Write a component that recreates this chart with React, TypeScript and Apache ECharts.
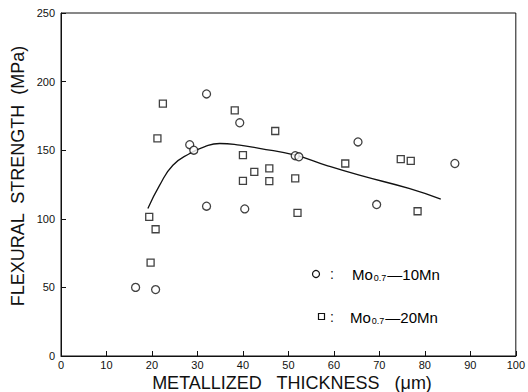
import React, { useEffect, useRef } from "react";
import * as echarts from "echarts";

const xTicks = [0, 10, 20, 30, 40, 50, 60, 70, 80, 90, 100];
const yTicks = [0, 50, 100, 150, 200, 250];

// Mo0.7-10Mn (circles)
const mn10X = [16.4, 20.8, 28.3, 29.2, 32.0, 32.0, 39.3, 40.4, 51.5, 52.3, 65.3, 69.4, 86.6];
const mn10Y = [50, 48.4, 154, 150, 191, 109.2, 170, 107.2, 146, 145.2, 156, 110.4, 140.3];

// Mo0.7-20Mn (squares)
const mn20X = [19.4, 19.7, 20.8, 21.2, 22.4, 38.2, 40.0, 40.0, 42.5, 45.8, 45.8, 47.1, 51.5, 52.0, 62.5, 74.7, 76.9, 78.4];
const mn20Y = [101.4, 68, 92.4, 158.6, 184, 179, 146.4, 127.6, 134.2, 136.7, 127.4, 164, 129.4, 104.3, 140.3, 143.5, 142.2, 105.5];

// fitted curve
const curveX = [19.1, 21.7, 24.6, 28.3, 31.5, 34.9, 39.3, 43.6, 51.5, 58.3, 65.6, 76.5, 83.5];
const curveY = [107.5, 124.5, 139, 147.6, 152.5, 154.9, 153.7, 151.3, 146.4, 139, 131.8, 122.1, 114.3];

const FONT = "'Liberation Sans', Arial, sans-serif";

export default function App() {
  const ref = useRef<HTMLDivElement>(null);
  useEffect(() => {
    if (!ref.current) return;
    const chart = echarts.init(ref.current, null, { renderer: "svg" });
    const zip = (xs: number[], ys: number[]) => xs.map((x, i) => [x, ys[i]]);
    const legendRich = {
      a: { fontSize: 15, fontFamily: FONT, color: "#111" },
      b: { fontSize: 9, fontFamily: FONT, color: "#111", padding: [7, 1, 0, 1] },
    };
    chart.setOption({
      animation: false,
      backgroundColor: "#fff",
      grid: {
        left: 61,
        right: 11,
        top: 13,
        bottom: 36,
        show: true,
        borderColor: "#111",
        borderWidth: 1,
        backgroundColor: "transparent",
      },
      xAxis: {
        type: "value",
        min: xTicks[0],
        max: xTicks[xTicks.length - 1],
        interval: 10,
        axisLine: { lineStyle: { color: "#111", width: 1 } },
        axisTick: { inside: true, length: 5, lineStyle: { color: "#111" } },
        axisLabel: {
          color: "#111",
          fontSize: 11,
          fontFamily: FONT,
          margin: 3,
          showMinLabel: true,
          showMaxLabel: true,
        },
        splitLine: { show: false },
      },
      yAxis: {
        type: "value",
        min: yTicks[0],
        max: yTicks[yTicks.length - 1],
        interval: 50,
        axisLine: { lineStyle: { color: "#111", width: 1 } },
        axisTick: { inside: true, length: 5, lineStyle: { color: "#111" } },
        axisLabel: {
          color: "#111",
          fontSize: 11,
          fontFamily: FONT,
          margin: 6,
          showMinLabel: true,
          showMaxLabel: true,
        },
        splitLine: { show: false },
      },
      series: [
        {
          type: "line",
          data: zip(curveX, curveY),
          smooth: 0.5,
          showSymbol: false,
          lineStyle: { color: "#111", width: 1.3 },
          z: 1,
        },
        {
          type: "scatter",
          data: zip(mn10X, mn10Y),
          symbol: "circle",
          symbolSize: 8,
          itemStyle: { color: "#fff", borderColor: "#111", borderWidth: 1.3 },
          z: 2,
        },
        {
          type: "scatter",
          data: zip(mn20X, mn20Y),
          symbol: "rect",
          symbolSize: 7,
          itemStyle: { color: "#fff", borderColor: "#111", borderWidth: 1.3 },
          z: 2,
        },
      ],
      graphic: [
        {
          type: "text",
          x: 18,
          y: 176,
          rotation: Math.PI / 2,
          style: {
            text: "FLEXURAL  STRENGTH  (MPa)",
            font: `18px ${FONT}`,
            fill: "#111",
            align: "center",
            verticalAlign: "middle",
          },
        },
        {
          type: "text",
          x: 292,
          y: 383,
          style: {
            text: "METALLIZED   THICKNESS   (\u03bcm)",
            font: `18px ${FONT}`,
            fill: "#111",
            align: "center",
            verticalAlign: "middle",
          },
        },
        {
          type: "circle",
          shape: { cx: 316, cy: 274, r: 3.5 },
          style: { fill: "#fff", stroke: "#111", lineWidth: 1.2 },
        },
        {
          type: "rect",
          shape: { x: 318.5, y: 313.5, width: 6, height: 6 },
          style: { fill: "#fff", stroke: "#111", lineWidth: 1.2 },
        },
        {
          type: "text",
          x: 330,
          y: 274,
          style: { text: ":", font: `14px ${FONT}`, fill: "#111", verticalAlign: "middle" },
        },
        {
          type: "text",
          x: 330,
          y: 317,
          style: { text: ":", font: `14px ${FONT}`, fill: "#111", verticalAlign: "middle" },
        },
        {
          type: "text",
          x: 352,
          y: 274,
          style: {
            text: "{a|Mo}{b|0.7}{a|\u201410Mn}",
            rich: legendRich,
            verticalAlign: "middle",
          },
        },
        {
          type: "text",
          x: 350,
          y: 317,
          style: {
            text: "{a|Mo}{b|0.7}{a|\u201420Mn}",
            rich: legendRich,
            verticalAlign: "middle",
          },
        },
      ],
    });
    return () => chart.dispose();
  }, []);
  return <div ref={ref} style={{ width: 528, height: 392, position: "fixed", left: 0, top: 0 }} />;
}
